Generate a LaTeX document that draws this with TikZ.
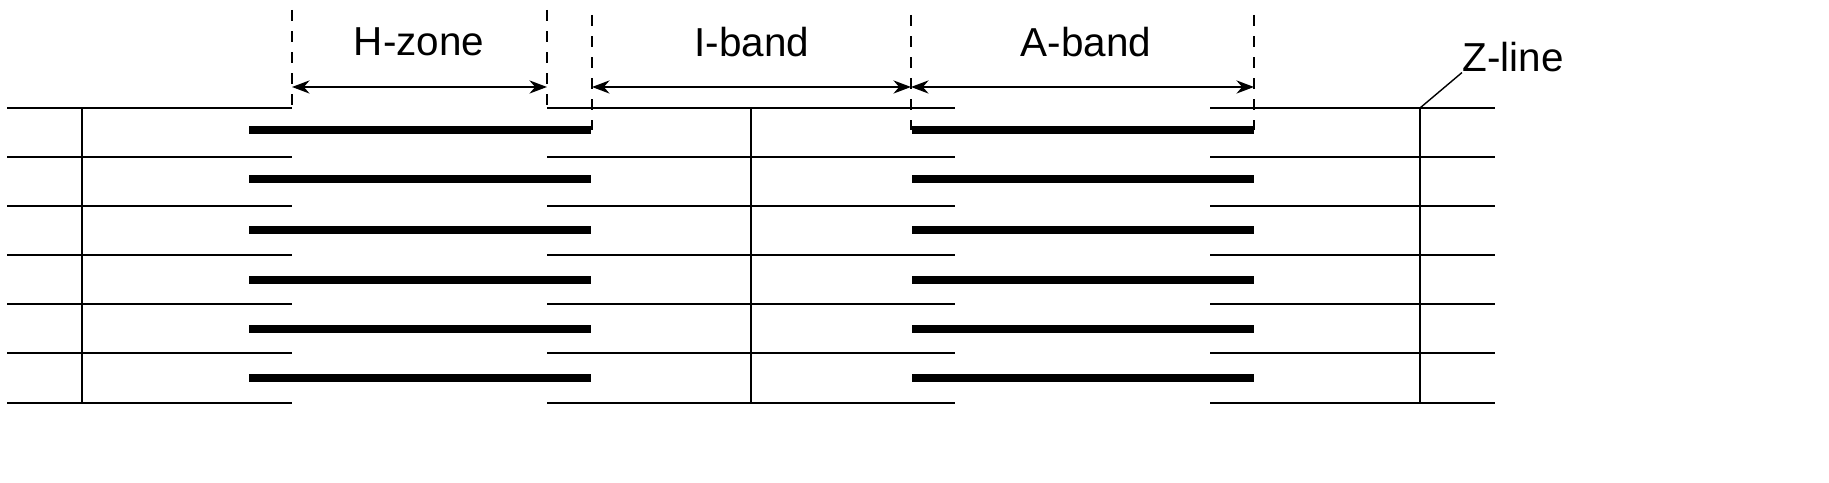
\documentclass[tikz,border=0pt]{standalone}
\usepackage{fontspec}
\setmainfont{Liberation Sans}
\usetikzlibrary{arrows.meta}
\tikzset{
  thin filament/.style={line width=0.7pt},
  thick filament/.style={line width=2pt},
  zline/.style={line width=0.7pt},
  guide/.style={dashed, line width=0.4pt},
  span/.style={{Stealth[length=5pt]}-{Stealth[length=5pt]}, line width=0.4pt},
  lbl/.style={font=\fontsize{11.5}{14}\selectfont, inner sep=0pt}
}
\begin{document}
\begin{tikzpicture}[x=0.01cm, y=-0.01cm]
\useasboundingbox (0,0) rectangle (1829,483);
% Filamentos finos (actina) y Z-lines
\foreach \y in {108,157,206,255,304,353,403} {
  \draw[thin filament] (7,\y) -- (292,\y);
  \draw[thin filament] (547,\y) -- (955,\y);
  \draw[thin filament] (1210,\y) -- (1495,\y);
}
\foreach \x in {82,751,1420}
  \draw[zline] (\x,108) -- (\x,403);
% Filamentos gruesos (miosina)
\foreach \y in {130,179,230,280,329,378} {
  \draw[thick filament] (249,\y) -- (591,\y);
  \draw[thick filament] (912,\y) -- (1254,\y);
}
% Lineas guia punteadas
\coordinate (h1) at (292,87); \coordinate (h2) at (547,87);
\coordinate (i1) at (592,87); \coordinate (i2) at (911,87);
\coordinate (a2) at (1254,87);
\draw[guide] (292,10) -- (292,108);
\draw[guide] (547,10) -- (547,108);
\draw[guide] (592,15) -- (592,130);
\draw[guide] (911,15) -- (911,130);
\draw[guide] (1254,15) -- (1254,130);
\draw[span] (h1) -- (h2);
\draw[span] (i1) -- (i2);
\draw[span] (i2) -- (a2);
\node[lbl] (hzone) at (419,42) {H-zone};
\node[lbl] (iband) at (752,42) {I-band};
\node[lbl] (aband) at (1086,42) {A-band};
\node[lbl, anchor=west] (zlab) at (1462,57) {Z-line};
\coordinate (ztop) at (1420,108);
\draw[line width=0.4pt] (ztop) -- (zlab.south west);
\end{tikzpicture}
\end{document}
